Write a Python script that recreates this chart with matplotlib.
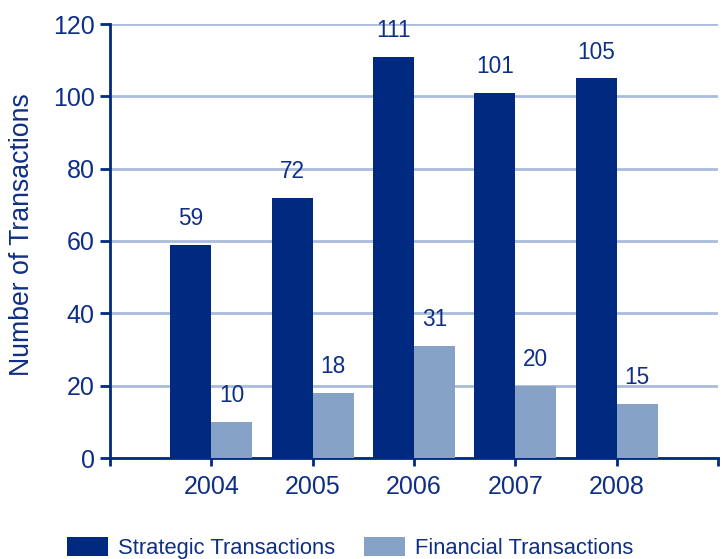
import matplotlib
matplotlib.use("Agg")
import matplotlib.pyplot as plt
import numpy as np

years = ["2004", "2005", "2006", "2007", "2008"]
strategic = [59, 72, 111, 101, 105]
financial = [10, 18, 31, 20, 15]
series_names = ["Strategic Transactions", "Financial Transactions"]

NAVY = "#002A7F"
LIGHT = "#87A2C7"
GRID = "#A9BCD9"
TEXT = "#0F2F86"

plt.rcParams['font.family'] = ['Liberation Sans', 'DejaVu Sans']

fig = plt.figure(figsize=(7.26, 5.59), dpi=100)
ax = fig.add_axes([110/726, 1-458/559, (718-110)/726, (458-24)/559])

x = np.arange(1, len(years)+1)
w = 0.405
b1 = ax.bar(x - w/2, strategic, w, color=NAVY, label=series_names[0], zorder=3)
b2 = ax.bar(x + w/2, financial, w, color=LIGHT, label=series_names[1], zorder=3)

for bars, vals in ((b1, strategic), (b2, financial)):
    for r, v in zip(bars, vals):
        ax.annotate(str(v), (r.get_x() + r.get_width()/2, v), xytext=(0, 10.5),
                    textcoords="offset points", ha="center", va="bottom",
                    fontsize=16.3, color=TEXT)

ax.set_xlim(0, 6)
ax.set_ylim(0, 120)
ax.set_yticks(range(0, 121, 20))
ax.set_xticks([0, 1, 2, 3, 4, 5, 6])
ax.set_xticklabels([""] + years + [""])
ax.yaxis.grid(True, color=GRID, linewidth=2, zorder=0)
ax.set_axisbelow(True)

for s in ("top", "right"):
    ax.spines[s].set_visible(False)
for s in ("left", "bottom"):
    ax.spines[s].set_color(NAVY)
    ax.spines[s].set_linewidth(2)

ax.tick_params(axis="y", colors=NAVY, labelcolor=TEXT, labelsize=18, length=7, width=2, pad=4)
ax.tick_params(axis="x", colors=NAVY, labelcolor=TEXT, labelsize=18, length=6, width=2, pad=6)

fig.text(22/726, 1-235/559, "Number of Transactions", rotation=90, ha="center", va="center",
         fontsize=19.2, color=TEXT)

leg = fig.legend(handles=[b1, b2], labels=series_names, loc="center left",
                 bbox_to_anchor=(67/726, 1-548/559), ncol=2, frameon=False,
                 fontsize=15.8, handlelength=1.88, handleheight=1.0, handletextpad=0.45,
                 columnspacing=1.32, borderpad=0, borderaxespad=0)
for t in leg.get_texts():
    t.set_color(TEXT)

fig.savefig("out.png", dpi=100)
